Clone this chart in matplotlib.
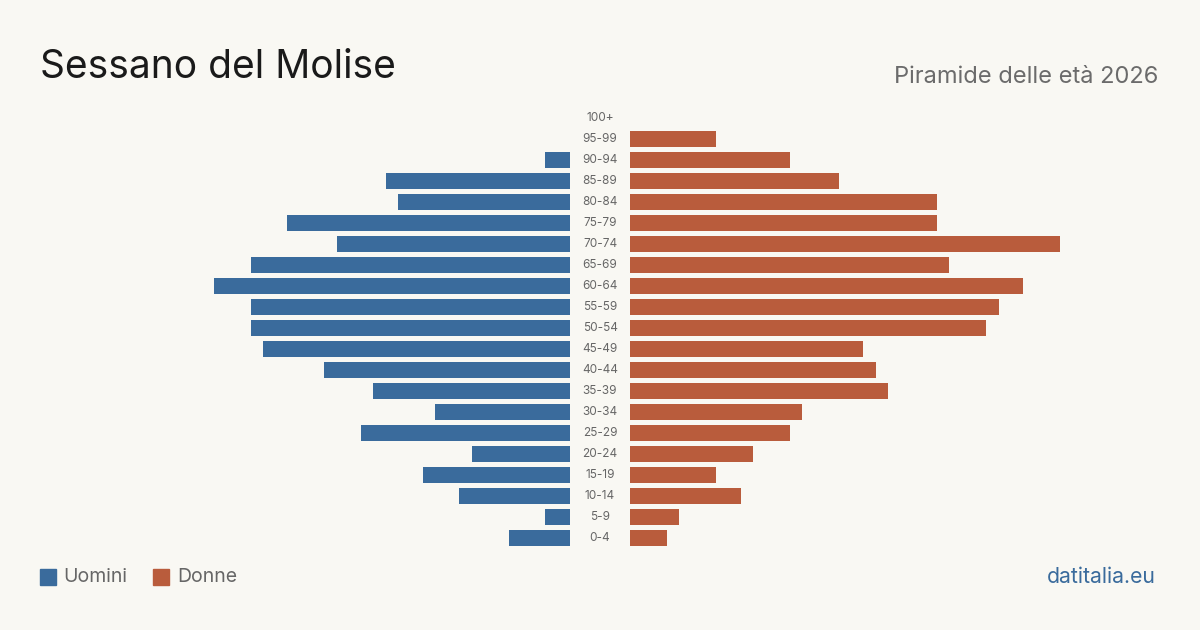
import matplotlib
matplotlib.use("Agg")
import matplotlib.pyplot as plt
from matplotlib.patches import Rectangle
import matplotlib.transforms as mtrans

plt.rcParams['font.family'] = ['Inter', 'DejaVu Sans']

ages = ["0-4", "5-9", "10-14", "15-19", "20-24", "25-29", "30-34", "35-39", "40-44",
        "45-49", "50-54", "55-59", "60-64", "65-69", "70-74", "75-79", "80-84",
        "85-89", "90-94", "95-99", "100+"]
uomini = [5, 2, 9, 12, 8, 17, 11, 16, 20, 25, 26, 26, 29, 26, 19, 23, 14, 15, 2, 0, 0]
donne = [3, 4, 9, 7, 10, 13, 14, 21, 20, 19, 29, 30, 32, 26, 35, 25, 25, 17, 13, 7, 0]

BLUE = "#3a6b9c"
ORANGE = "#b95c3c"
BG = "#f9f8f3"

W, H = 1200, 630
fig = plt.figure(figsize=(12, 6.3), dpi=100, facecolor=BG)

bottom = (H - 548.5) / H
height = 441 / H
axL = fig.add_axes([140 / W, bottom, 430 / W, height])
axR = fig.add_axes([630 / W, bottom, 430 / W, height])

y = list(range(len(ages)))
axL.barh(y, uomini, height=0.8, color=BLUE)
axR.barh(y, donne, height=0.8, color=ORANGE)

for ax in (axL, axR):
    ax.set_xlim(0, 35)
    ax.set_ylim(-0.5, len(ages) - 0.5)
    ax.axis("off")
    ax.set_facecolor("none")
axL.invert_xaxis()

trans = mtrans.blended_transform_factory(fig.transFigure, axL.transData)
for i, a in enumerate(ages):
    fig.text(600 / W, i, a, transform=trans, ha="center", va="center",
             fontsize=8.5, color="#666666")

fig.text(40 / W, 1 - 67 / H, "Sessano del Molise", fontsize=28, color="#1a1a1a",
         ha="left", va="center")
fig.text(1158 / W, 1 - 77 / H, "Piramide delle età 2026", fontsize=17, color="#6b6b6b",
         ha="right", va="center")

# legend
ly = 1 - 577 / H
fig.patches.append(Rectangle((40 / W, ly - 8 / H), 16 / W, 16 / H, transform=fig.transFigure,
                             color=BLUE, figure=fig))
fig.text(63 / W, ly, "Uomini", fontsize=14, color="#666666", ha="left", va="center")
fig.patches.append(Rectangle((153 / W, ly - 8 / H), 16 / W, 16 / H, transform=fig.transFigure,
                             color=ORANGE, figure=fig))
fig.text(177 / W, ly, "Donne", fontsize=14, color="#666666", ha="left", va="center")

fig.text(1156 / W, ly, "datitalia.eu", fontsize=15.3, color=BLUE, ha="right", va="center")

fig.savefig("out.png", dpi=100, facecolor=BG)
